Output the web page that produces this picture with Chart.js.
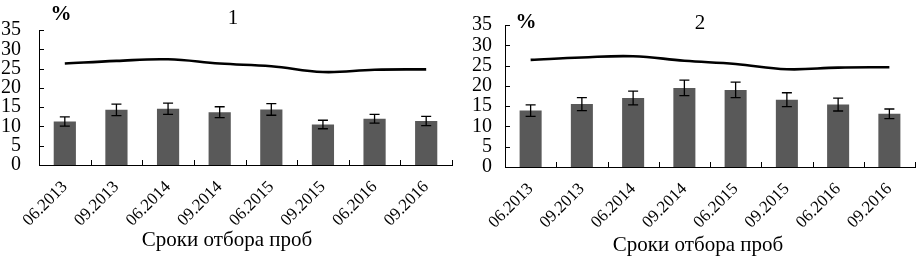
<!DOCTYPE html>
<html>
<head>
<meta charset="utf-8">
<script src="https://cdn.jsdelivr.net/npm/chart.js@4.4.1/dist/chart.umd.min.js"></script>
<style>
  html, body { margin: 0; padding: 0; background: #fff; }
  .wrap { display: flex; width: 918px; height: 257px; }
  .panel { position: relative; height: 257px; }
</style>
</head>
<body>
<div class="wrap">
  <div class="panel" style="width:458px"><canvas id="c1"></canvas></div>
  <div class="panel" style="width:460px"><canvas id="c2"></canvas></div>
</div>
<script>
'use strict';

const categories = ['06.2013', '09.2013', '06.2014', '09.2014', '06.2015', '09.2015', '06.2016', '09.2016'];
const yTicks = [0, 5, 10, 15, 20, 25, 30, 35];
const xTitle = 'Сроки отбора проб';

// panel 1
const bars1 = [11.3, 14.3, 14.6, 13.7, 14.4, 10.5, 12.0, 11.4];
const errs1 = [1.2, 1.5, 1.45, 1.4, 1.5, 1.1, 1.15, 1.2];
const line1 = [26.3, 27.0, 27.4, 26.3, 25.6, 24.1, 24.7, 24.8];

// panel 2
const bars2 = [13.9, 15.5, 17.0, 19.5, 19.0, 16.6, 15.4, 13.1];
const errs2 = [1.4, 1.6, 1.7, 1.9, 1.9, 1.7, 1.6, 1.2];
const line2 = [26.4, 27.0, 27.3, 26.2, 25.4, 24.1, 24.5, 24.6];

const SERIF = '"Liberation Serif", "Times New Roman", serif';

const extrasPlugin = {
  id: 'extras',
  afterDatasetsDraw(chart, args, opts) {
    const ctx = chart.ctx;
    const x = chart.scales.x, y = chart.scales.y;
    const area = chart.chartArea;
    ctx.save();
    ctx.strokeStyle = '#000';
    ctx.lineWidth = 1.3;
    // error bars
    opts.errs.forEach((e, i) => {
      const cx = x.getPixelForValue(i);
      const v = opts.bars[i];
      const y1 = y.getPixelForValue(v + e), y2 = y.getPixelForValue(v - e);
      ctx.beginPath();
      ctx.moveTo(cx, y1); ctx.lineTo(cx, y2);
      ctx.moveTo(cx - 5, y1); ctx.lineTo(cx + 5, y1);
      ctx.moveTo(cx - 5, y2); ctx.lineTo(cx + 5, y2);
      ctx.stroke();
    });
    // inner tick marks
    ctx.lineWidth = 1;
    yTicks.forEach(v => {
      const py = Math.round(y.getPixelForValue(v)) + 0.5;
      ctx.beginPath();
      ctx.moveTo(area.left, py); ctx.lineTo(area.left + 5, py);
      ctx.stroke();
    });
    for (let i = 0; i <= categories.length; i++) {
      const px = Math.round(x.getPixelForValue(i - 0.5)) + 0.5;
      ctx.beginPath();
      ctx.moveTo(px, area.bottom); ctx.lineTo(px, area.bottom - 5);
      ctx.stroke();
    }
    // labels inside the plot and axis title
    ctx.fillStyle = '#000';
    ctx.textAlign = 'center';
    ctx.textBaseline = 'middle';
    ctx.font = 'bold 21px ' + SERIF;
    ctx.fillText('%', opts.pctX, opts.pctY);
    ctx.font = '21px ' + SERIF;
    ctx.fillText(opts.label, opts.labelX, opts.labelY);
    ctx.fillText(xTitle, opts.titleX, opts.titleY);
    ctx.restore();
  }
};

function makeChart(id, bars, errs, line, cfg) {
  return new Chart(document.getElementById(id), {
    type: 'bar',
    data: {
      labels: categories,
      datasets: [
        {
          type: 'line',
          data: line,
          borderColor: '#000',
          borderWidth: 2.6,
          pointRadius: 0,
          tension: 0.4,
          fill: false
        },
        {
          type: 'bar',
          data: bars,
          backgroundColor: '#595959',
          barPercentage: 0.43,
          categoryPercentage: 1
        }
      ]
    },
    options: {
      responsive: true,
      maintainAspectRatio: false,
      animation: false,
      layout: { padding: { top: cfg.top, right: cfg.right, left: 0, bottom: 0 } },
      plugins: {
        legend: { display: false },
        tooltip: { enabled: false },
        extras: {
          bars, errs, label: cfg.label, labelX: cfg.labelX, labelY: cfg.labelY,
          pctX: cfg.pctX, pctY: cfg.pctY, titleX: cfg.titleX, titleY: cfg.titleY
        }
      },
      scales: {
        x: {
          grid: { display: false, drawTicks: false },
          border: { display: true, color: '#000', width: 1 },
          ticks: {
            color: '#000',
            font: { family: SERIF, size: 17 },
            minRotation: 45,
            maxRotation: 45,
            autoSkip: false,
            padding: 12
          },
          afterFit(scale) { scale.height = cfg.xHeight; }
        },
        y: {
          min: 0,
          max: 35,
          grid: { display: false, drawTicks: false },
          border: { display: true, color: '#000', width: 1 },
          ticks: {
            color: '#000',
            font: { family: SERIF, size: 20 },
            autoSkip: false,
            padding: cfg.yPad
          },
          afterBuildTicks(scale) { scale.ticks = yTicks.map(v => ({ value: v })); },
          afterFit(scale) { scale.width = cfg.yWidth; }
        }
      }
    },
    plugins: [extrasPlugin]
  });
}

makeChart('c1', bars1, errs1, line1, {
  top: 8, right: 6, yWidth: 39, yPad: 18, xHeight: 92,
  label: '1', labelX: 233, labelY: 18, pctX: 61, pctY: 15, titleX: 227, titleY: 240
});
makeChart('c2', bars2, errs2, line2, {
  top: 13, right: 3, yWidth: 47, yPad: 13, xHeight: 90,
  label: '2', labelX: 242, labelY: 23, pctX: 68, pctY: 23, titleX: 240, titleY: 245
});
</script>
</body>
</html>
